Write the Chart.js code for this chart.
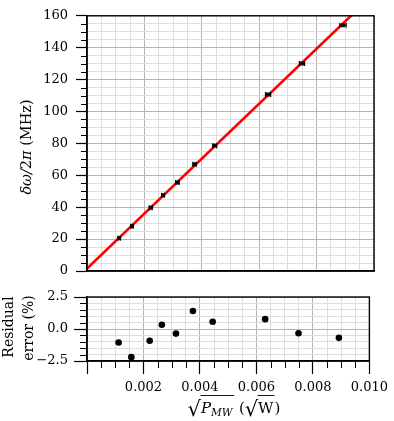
<!DOCTYPE html>
<html><head><meta charset="utf-8">
<script src="https://cdn.jsdelivr.net/npm/chart.js@4/dist/chart.umd.min.js"></script>
<style>
html,body{margin:0;padding:0;background:#fff;}
#wrap{position:relative;width:394px;height:421px;overflow:hidden;}
canvas{position:absolute;left:0;top:0;}
</style></head><body>
<div id="wrap"><canvas id="cRes" width="394" height="421"></canvas><canvas id="cTop" width="394" height="421"></canvas></div>
<script>
// ---- data ----
const sqrtPower = [0.00112, 0.00157, 0.00222, 0.00265, 0.00315, 0.00375, 0.00445, 0.00631, 0.00749, 0.00892];
const shiftMHz  = [20.6, 28.1, 39.6, 47.5, 55.5, 66.9, 78.6, 110.7, 130.1, 154.1];
const sqrtPowerErr = [0.00004, 0.00004, 0.00005, 0.00005, 0.00006, 0.00006, 0.00007, 0.00009, 0.00009, 0.00011];
const residualPct = [-1.06, -2.2, -0.92, 0.33, -0.36, 1.41, 0.57, 0.77, -0.33, -0.69];
const fitX = [0, 0.0095];
const fitY = [1.5, 165.2];
const xTickValues = [0.002, 0.004, 0.006, 0.008, 0.010];
const xTickLabels = ['0.002', '0.004', '0.006', '0.008', '0.010'];
const topYTickLabels = ['0', '20', '40', '60', '80', '100', '120', '140', '160'];
const resYTickValues = [-2.5, 0, 2.5];
const resYTickLabels = ['\u22122.5', '0.0', '2.5'];

// ---- layout ----
const W = 394, H = 421;
const PL = 87, PR = 374;
const TOP_T = 7, TOP_B = 271;
const RES_T = 297, RES_B = 361;
const MAJOR = '#b4b4b4', MINOR = '#dddddd';
const FONT = '"DejaVu Serif"';

Chart.defaults.font.family = FONT;
Chart.defaults.font.size = 13;
Chart.defaults.color = '#000';

function isMult(v, step) { const r = v / step; return Math.abs(r - Math.round(r)) < 1e-6; }

const frame = {
  id: 'frame',
  afterDraw(chart) {
    const a = chart.chartArea, ctx = chart.ctx;
    ctx.save(); ctx.strokeStyle = '#000'; ctx.lineWidth = 1.4;
    ctx.strokeRect(a.left, a.top, a.right - a.left, a.bottom - a.top);
    ctx.restore();
  }
};

const minorTicks = {
  id: 'minorTicks',
  afterDraw(chart, args, opts) {
    const ctx = chart.ctx; ctx.save(); ctx.strokeStyle = '#000'; ctx.lineWidth = 1;
    (opts.list || []).forEach(cfg => {
      const s = chart.scales[cfg.id];
      s.ticks.forEach(t => {
        if (isMult(t.value, cfg.major)) return;
        const p = Math.round(s.getPixelForValue(t.value)) + 0.5;
        ctx.beginPath();
        if (s.isHorizontal()) { ctx.moveTo(p, s.top); ctx.lineTo(p, s.top + cfg.len); }
        else { ctx.moveTo(s.right - cfg.len, p); ctx.lineTo(s.right, p); }
        ctx.stroke();
      });
    });
    ctx.restore();
  }
};

const errorBars = {
  id: 'errorBars',
  afterDatasetsDraw(chart) {
    const xs = chart.scales.x, ys = chart.scales.y, ctx = chart.ctx;
    ctx.save(); ctx.strokeStyle = '#000'; ctx.lineWidth = 1.2;
    sqrtPower.forEach((xv, i) => {
      const y = ys.getPixelForValue(shiftMHz[i]);
      const x1 = xs.getPixelForValue(xv - sqrtPowerErr[i]);
      const x2 = xs.getPixelForValue(xv + sqrtPowerErr[i]);
      ctx.beginPath();
      ctx.moveTo(x1, y); ctx.lineTo(x2, y);
      ctx.moveTo(x1, y - 2.5); ctx.lineTo(x1, y + 2.5);
      ctx.moveTo(x2, y - 2.5); ctx.lineTo(x2, y + 2.5);
      ctx.stroke();
    });
    ctx.restore();
  }
};

function drawRich(ctx, parts, cx, baseline) {
  let w = 0;
  parts.forEach(p => { ctx.font = p.font; p.w = ctx.measureText(p.t).width + (p.gap || 0); w += p.w; });
  let x = cx - w / 2;
  parts.forEach(p => {
    ctx.font = p.font;
    ctx.fillText(p.t, x, baseline + (p.dy || 0));
    x += p.w;
  });
  return parts;
}

const topTitle = {
  id: 'topTitle',
  afterDraw(chart) {
    const ctx = chart.ctx; ctx.save();
    ctx.fillStyle = '#000'; ctx.textAlign = 'left'; ctx.textBaseline = 'alphabetic';
    ctx.translate(31, 147); ctx.rotate(-Math.PI / 2);
    const it = 'italic 14.5px ' + FONT, rm = '14.5px ' + FONT;
    drawRich(ctx, [
      {t: '\u03B4\u03C9', font: it},
      {t: '/', font: it},
      {t: '2', font: rm},
      {t: '\u03C0', font: it},
      {t: ' (MHz)', font: rm}
    ], 0, 0);
    ctx.restore();
  }
};

const resTitles = {
  id: 'resTitles',
  afterDraw(chart) {
    const ctx = chart.ctx; ctx.save();
    ctx.fillStyle = '#000'; ctx.textAlign = 'center'; ctx.textBaseline = 'alphabetic';
    ctx.font = '14px ' + FONT;
    ctx.save(); ctx.translate(12.5, 327); ctx.rotate(-Math.PI / 2); ctx.fillText('Residual', 0, 0); ctx.restore();
    ctx.save(); ctx.translate(32.5, 328); ctx.rotate(-Math.PI / 2); ctx.fillText('error (%)', 0, 0); ctx.restore();

    // x-axis title: sqrt(P_MW) (sqrt W)
    ctx.textAlign = 'left';
    const it = 'italic 15px ' + FONT, rm = '15px ' + FONT, sub = 'italic 10.5px ' + FONT, rad = '21px ' + FONT;
    const CX = 234, BASE = 413, OVER = 395.5;
    const parts = drawRich(ctx, [
      {t: '\u221A', font: rad, dy: 3},
      {t: 'P', font: it, over: 1},
      {t: 'MW', font: sub, dy: 3, over: 1, gap: 1.5},
      {t: ' (', font: rm},
      {t: '\u221A', font: rad, dy: 3},
      {t: 'W', font: rm, over: 1, gap: 1},
      {t: ')', font: rm}
    ], CX, BASE);
    let w = 0; parts.forEach(p => w += p.w);
    let x = CX - w / 2;
    ctx.strokeStyle = '#000'; ctx.lineWidth = 0.9;
    let start = null;
    parts.forEach(p => {
      if (p.over) { if (start === null) start = x - 0.5; }
      else if (start !== null) { ctx.beginPath(); ctx.moveTo(start, OVER); ctx.lineTo(x, OVER); ctx.stroke(); start = null; }
      x += p.w;
    });
    ctx.restore();
  }
};

// ---- top panel ----
new Chart(document.getElementById('cTop'), {
  data: {
    datasets: [
      {type: 'scatter', data: sqrtPower.map((x, i) => ({x, y: shiftMHz[i]})),
       pointStyle: 'rect', pointRadius: 2.8, pointBackgroundColor: '#111', pointBorderColor: '#111', pointBorderWidth: 0, order: 1},
      {type: 'line', data: fitX.map((x, i) => ({x, y: fitY[i]})),
       borderColor: '#ff0000', borderWidth: 2.6, pointRadius: 0, clip: 0, order: 2}
    ]
  },
  options: {
    responsive: false, animation: false, events: [],
    layout: {padding: {left: 0, right: W - PR, top: TOP_T, bottom: 0}, autoPadding: false},
    plugins: {legend: {display: false}, tooltip: {enabled: false},
      minorTicks: {list: [{id: 'y', major: 20, len: 6}]}},
    scales: {
      x: {type: 'linear', min: 0, max: 0.01,
          afterFit(s) { s.height = H - TOP_B; },
          ticks: {display: false, stepSize: 0.0005},
          grid: {color: c => isMult(c.tick.value, 0.002) ? MAJOR : MINOR, drawTicks: false, lineWidth: 1},
          border: {color: '#000', width: 1.4}},
      y: {type: 'linear', min: 0, max: 160,
          afterFit(s) { s.width = PL; },
          ticks: {stepSize: 5, autoSkip: false, padding: 8, color: '#000',
                  callback: v => isMult(v, 20) ? topYTickLabels[Math.round(v / 20)] : ''},
          grid: {color: c => isMult(c.tick.value, 20) ? MAJOR : MINOR, lineWidth: 1,
                 tickLength: 11, tickWidth: 1.2,
                 tickColor: c => isMult(c.tick.value, 20) ? '#000' : 'rgba(0,0,0,0)'},
          border: {color: '#000', width: 1.4}}
    }
  },
  plugins: [errorBars, minorTicks, frame, topTitle]
});

// ---- residual panel ----
new Chart(document.getElementById('cRes'), {
  type: 'scatter',
  data: {
    datasets: [
      {data: sqrtPower.map((x, i) => ({x, y: residualPct[i]})),
       pointRadius: 3.3, pointBackgroundColor: '#000', pointBorderColor: '#000', pointBorderWidth: 0}
    ]
  },
  options: {
    responsive: false, animation: false, events: [],
    layout: {padding: {left: 0, right: W - PR, top: RES_T, bottom: 0}, autoPadding: false},
    plugins: {legend: {display: false}, tooltip: {enabled: false},
      minorTicks: {list: [{id: 'y', major: 2.5, len: 7}, {id: 'x', major: 0.002, len: 7}]}},
    scales: {
      x: {type: 'linear', min: 0, max: 0.01,
          afterFit(s) { s.height = H - RES_B; },
          ticks: {stepSize: 0.0005, autoSkip: false, maxRotation: 0, padding: 6, color: '#000',
                  callback: v => { const k = xTickValues.findIndex(t => Math.abs(t - v) < 1e-9); return k >= 0 ? xTickLabels[k] : ''; }},
          grid: {color: c => isMult(c.tick.value, 0.002) ? MAJOR : MINOR, lineWidth: 1,
                 tickLength: 13, tickWidth: 1.2,
                 tickColor: c => isMult(c.tick.value, 0.002) ? '#000' : 'rgba(0,0,0,0)'},
          border: {color: '#000', width: 1.4}},
      y: {type: 'linear', min: -2.5, max: 2.5,
          afterFit(s) { s.width = PL; },
          ticks: {stepSize: 0.5, autoSkip: false, padding: 6, color: '#000',
                  callback: v => { const k = resYTickValues.findIndex(t => Math.abs(t - v) < 1e-9); return k >= 0 ? resYTickLabels[k] : ''; }},
          grid: {color: c => isMult(c.tick.value, 2.5) ? MAJOR : MINOR, lineWidth: 1,
                 tickLength: 13, tickWidth: 1.2,
                 tickColor: c => isMult(c.tick.value, 2.5) ? '#000' : 'rgba(0,0,0,0)'},
          border: {color: '#000', width: 1.4}}
    }
  },
  plugins: [minorTicks, frame, resTitles]
});
</script>
</body></html>
